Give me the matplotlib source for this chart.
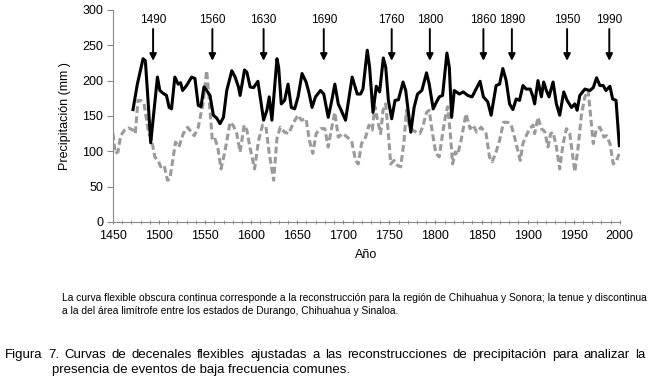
import matplotlib.pyplot as plt
from matplotlib.ticker import MultipleLocator

plt.rcParams['font.family'] = ['Liberation Sans', 'DejaVu Sans']

# curva obscura (Chihuahua y Sonora)
yr_dark = [1471.8, 1476.5, 1482.7, 1485.2, 1488.1, 1491, 1494, 1498.3, 1500.9, 1504.5,
           1508.1, 1511, 1513.6, 1517.2, 1520.8, 1523.4, 1525.6, 1529.9, 1535.4, 1539,
           1542.6, 1545.5, 1548.8, 1551.7, 1555.3, 1559, 1562.6, 1566.2, 1569.9, 1573.5,
           1579, 1582.6, 1586.2, 1588, 1592.8, 1595.3, 1598.9, 1602.6, 1607.3, 1609.8,
           1613.5, 1617.1, 1619.6, 1622.5, 1628, 1629.8, 1632.7, 1636.3, 1640, 1643.6,
           1647.2, 1650.9, 1655.2, 1659.6, 1662.5, 1666.1, 1669.8, 1675.2, 1678.8, 1683.6,
           1687.2, 1690.8, 1694.5, 1697, 1702.4, 1709.6, 1715.1, 1718.7, 1721.3, 1726,
           1728.5, 1732.2, 1735.8, 1739.4, 1743.4, 1746, 1748.9, 1752.5, 1756.1, 1759.8,
           1764.8, 1767.7, 1770.3, 1773.2, 1776.8, 1780.5, 1785.2, 1790.3, 1793.2, 1797.5,
           1801.2, 1804.1, 1807.7, 1812.4, 1815, 1817.5, 1820.4, 1825.9, 1830.2, 1835,
           1839.7, 1844, 1848.4, 1852, 1856.7, 1860.4, 1865.8, 1869.5, 1873.1, 1876.7,
           1880.4, 1884, 1887.6, 1891.2, 1894.9, 1898.5, 1902.9, 1905.8, 1907.6, 1911.2,
           1914.9, 1917.4, 1920.3, 1923.2, 1927.6, 1931.2, 1934.8, 1939.2, 1942.8, 1947.6,
           1951.2, 1953.7, 1956.6, 1962.1, 1967.5, 1971.2, 1974.8, 1978.4, 1982, 1985,
           1989.3, 1992.2, 1995.9, 1999.5]
pp_dark = [159, 195, 231, 228, 172, 112, 150, 205, 186, 182,
           179, 162, 160, 205, 195, 197, 186, 193, 205, 203,
           165, 163, 191, 186, 179, 151, 147, 139, 148, 186,
           214, 205, 191, 179, 215, 212, 191, 190, 199, 177,
           144, 158, 177, 144, 231, 219, 167, 172, 195, 162,
           160, 177, 210, 198, 184, 162, 177, 186, 181, 148,
           170, 195, 167, 160, 144, 205, 181, 181, 188, 243,
           219, 155, 192, 184, 232, 219, 172, 146, 172, 173,
           198, 186, 158, 127, 162, 181, 186, 211, 195, 160,
           170, 177, 179, 239, 219, 148, 186, 181, 184, 179,
           177, 188, 199, 177, 170, 151, 193, 195, 217, 200,
           167, 159, 174, 172, 193, 188, 188, 177, 167, 200,
           177, 198, 186, 177, 198, 167, 151, 184, 172, 162,
           167, 158, 179, 188, 186, 190, 204, 193, 193, 186,
           192, 174, 172, 108]

# curva tenue (Durango, Chihuahua y Sinaloa)
yr_light = [1450, 1452.5, 1455.4, 1458.4, 1462.7, 1467, 1471.8, 1474.3, 1477.2, 1480,
            1483.8, 1486.3, 1488.9, 1491.8, 1495.4, 1499, 1501.9, 1505.6, 1509.2, 1511.8,
            1515.4, 1517.9, 1521.6, 1526.3, 1531, 1534.6, 1538.3, 1542.6, 1548.1, 1551.7,
            1554.2, 1557.9, 1560.8, 1563.7, 1567.3, 1571.7, 1577.1, 1580.7, 1584.4, 1588,
            1592.4, 1595.3, 1598.9, 1603.7, 1608, 1612.4, 1616, 1619.6, 1624.4, 1628,
            1631.6, 1636.3, 1640.7, 1646.1, 1650.9, 1654.5, 1659.6, 1663.2, 1666.9, 1670.5,
            1675.2, 1679.9, 1683.6, 1687.2, 1690.8, 1694.5, 1699.5, 1704.2, 1708.9, 1713.3,
            1716.2, 1719.8, 1724.2, 1727.8, 1731.4, 1734.3, 1738, 1740.5, 1743.1, 1746,
            1748.9, 1751.4, 1755, 1758.7, 1762.3, 1765.9, 1768.5, 1771.4, 1775, 1779.4,
            1783, 1786, 1790.3, 1793.2, 1796.8, 1800.4, 1804.1, 1807.7, 1810.6, 1813.2,
            1816.1, 1818.6, 1821.5, 1824, 1827.7, 1833.1, 1837.5, 1841, 1844.7, 1849.5,
            1854.9, 1858.6, 1861.5, 1865.8, 1869.5, 1873.8, 1878.5, 1882.2, 1885.8, 1889.4,
            1892, 1894.9, 1898.5, 1902.1, 1905.8, 1907.6, 1911.2, 1914.9, 1918.5, 1922.1,
            1925, 1927.6, 1931.2, 1934.8, 1938.5, 1942.1, 1945.7, 1948.6, 1951.2, 1954.8,
            1958.5, 1962.1, 1965.7, 1968.3, 1971.2, 1974.8, 1978.4, 1982.8, 1985.7, 1989.3,
            1992.9, 1996.6, 2000]
pp_light = [125, 97, 99, 122, 130, 133, 130, 125, 172, 172,
            167, 146, 125, 118, 92, 87, 78, 80, 59, 61,
            92, 113, 106, 125, 134, 128, 122, 134, 170, 214,
            177, 115, 117, 106, 75, 101, 141, 136, 125, 99,
            137, 130, 104, 75, 115, 137, 135, 97, 59, 118,
            134, 127, 125, 141, 151, 144, 146, 115, 97, 125,
            132, 132, 106, 132, 155, 120, 125, 120, 115, 87,
            82, 111, 120, 137, 130, 163, 139, 125, 158, 167,
            125, 82, 87, 80, 78, 115, 158, 137, 130, 127,
            125, 134, 155, 158, 125, 97, 92, 125, 148, 163,
            125, 82, 99, 95, 115, 153, 132, 137, 127, 134,
            125, 92, 85, 99, 115, 141, 141, 137, 120, 101,
            87, 111, 122, 132, 137, 125, 148, 132, 128, 106,
            125, 127, 106, 75, 111, 132, 125, 97, 71, 106,
            153, 177, 186, 151, 111, 132, 134, 120, 122, 111,
            82, 87, 99]

arrow_years = [1493.6, 1557.9, 1613.5, 1678.8, 1752.5, 1793.9, 1852, 1882.9, 1942.8, 1988.6]
arrow_labels = ['1490', '1560', '1630', '1690', '1760', '1800', '1860', '1890', '1950', '1990']

fig = plt.figure(figsize=(6.49, 3.82), dpi=100)
ax = fig.add_axes([0.174, 0.419, 0.781, 0.555])

ax.plot(yr_light, pp_light, color='#9a9a9a', lw=2.2, ls=(0, (2.2, 1.1)))
ax.plot(yr_dark, pp_dark, color='black', lw=2.2)

for x, lab in zip(arrow_years, arrow_labels):
    ax.annotate('', xy=(x, 228), xytext=(x, 273),
                arrowprops=dict(arrowstyle='-|>', color='black', lw=1.4,
                                mutation_scale=10, shrinkA=0, shrinkB=0))
    ax.text(x, 286, lab, ha='center', va='center', fontsize=8.5)

ax.set_xlim(1450, 2000)
ax.set_ylim(0, 300)
ax.xaxis.set_major_locator(MultipleLocator(50))
ax.xaxis.set_minor_locator(MultipleLocator(10))
ax.yaxis.set_major_locator(MultipleLocator(50))
for s in ['top', 'right']:
    ax.spines[s].set_visible(False)
for s in ['left', 'bottom']:
    ax.spines[s].set_color('#888888')
ax.tick_params(axis='y', length=4, color='#888888', labelsize=9, pad=3)
ax.tick_params(axis='x', which='major', length=3, direction='inout', color='#888888', labelsize=9, pad=4)
ax.tick_params(axis='x', which='minor', length=3, direction='inout', color='#888888')
ax.set_xlabel('Año', fontsize=9, labelpad=5)
ax.set_ylabel('Precipitación (mm )', fontsize=9, labelpad=8)

small = ['Liberation Sans Narrow', 'Liberation Sans', 'DejaVu Sans']
fig.text(62 / 649, 1 - 298 / 382,
         'La curva flexible obscura continua corresponde a la reconstrucción para la región de '
         'Chihuahua y Sonora; la tenue y discontinua',
         fontsize=7.35, family=small, va='center')
fig.text(62 / 649, 1 - 311 / 382,
         'a la del área limítrofe entre los estados de Durango, Chihuahua y Sinaloa.',
         fontsize=7.35, family=small, va='center')

# justified first caption line
words = ('Figura 7. Curvas de decenales flexibles ajustadas a las reconstrucciones '
         'de precipitación para analizar la').split(' ')
renderer = fig.canvas.get_renderer()
texts = [fig.text(0, 1 - 355 / 382, w, fontsize=9.5, va='center') for w in words]
widths = [t.get_window_extent(renderer).width for t in texts]
x0, x1 = 5, 645
gap = (x1 - x0 - sum(widths)) / (len(words) - 1)
x = x0
for t, w in zip(texts, widths):
    t.set_x(x / 649)
    x += w + gap
fig.text(52 / 649, 1 - 370 / 382, 'presencia de eventos de baja frecuencia comunes.',
         fontsize=9.5, va='center')

fig.savefig('out.png', dpi=100)
